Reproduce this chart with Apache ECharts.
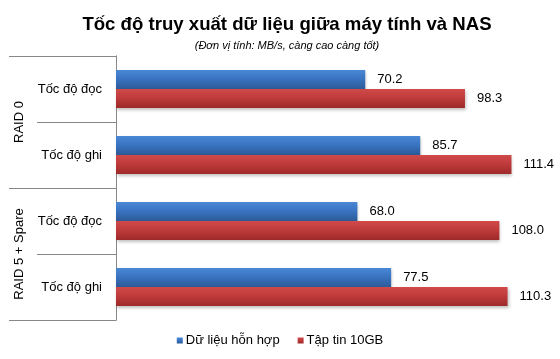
<!DOCTYPE html>
<html><head><meta charset="utf-8">
<script src="https://cdn.jsdelivr.net/npm/echarts@6/dist/echarts.min.js"></script>
<style>html,body{margin:0;padding:0;background:#fff}#c{width:560px;height:359px}</style>
</head><body><div id="c"></div>
<script>
const categories = ["Tốc độ đọc", "Tốc độ ghi", "Tốc độ đọc", "Tốc độ ghi"];
const groups = ["RAID 0", "RAID 5 + Spare"];
const seriesNames = ["Dữ liệu hỗn hợp", "Tập tin 10GB"];
const mixedData = [70.2, 85.7, 68.0, 77.5];
const fileData = [98.3, 111.4, 108.0, 110.3];

const FONT = "'Liberation Sans', Arial, sans-serif";
function grad(top, mid, bot) {
  return new echarts.graphic.LinearGradient(0, 0, 0, 1, [
    {offset: 0, color: top}, {offset: 0.45, color: mid}, {offset: 1, color: bot}
  ]);
}
const chart = echarts.init(document.getElementById('c'));
chart.setOption({
  animation: false,
  textStyle: {fontFamily: FONT},
  title: {
    text: "Tốc độ truy xuất dữ liệu giữa máy tính và NAS",
    subtext: "(Đơn vị tính: MB/s, càng cao càng tốt)",
    left: 282, top: 10, textAlign: 'center', itemGap: 6,
    textStyle: {fontFamily: FONT, fontSize: 18.6, fontWeight: 'bold', color: '#000'},
    subtextStyle: {fontFamily: FONT, fontSize: 11, fontStyle: 'italic', color: '#000'}
  },
  legend: {
    bottom: 7, left: 'center', icon: 'rect', itemWidth: 6, itemHeight: 6, itemGap: 18,
    textStyle: {fontFamily: FONT, fontSize: 13, color: '#000', padding: [0, 0, 0, -2]},
    data: seriesNames
  },
  grid: {left: 116, right: 18, top: 56, bottom: 39, containLabel: false},
  xAxis: {type: 'value', min: 0, max: 120, show: false},
  yAxis: [
    {
      type: 'category', data: categories, inverse: true, position: 'left',
      axisLine: {show: true, lineStyle: {color: '#888', width: 1}},
      axisTick: {show: true, length: 79, lineStyle: {color: '#888'}},
      axisLabel: {margin: 14, fontSize: 13, color: '#000', fontFamily: FONT}
    },
    {
      type: 'category', data: groups, inverse: true, position: 'left',
      axisLine: {show: true, lineStyle: {color: '#888', width: 1}},
      axisTick: {show: true, length: 107, lineStyle: {color: '#888'}},
      axisLabel: {margin: 90, rotate: 90, fontSize: 13, color: '#000', fontFamily: FONT}
    }
  ],
  series: [
    {
      name: seriesNames[0], type: 'bar', yAxisIndex: 0, data: mixedData,
      barWidth: 19, barGap: '0%',
      itemStyle: {color: grad('#4A88D4', '#3A74C2', '#2C5A98'),
        shadowBlur: 3, shadowColor: 'rgba(0,0,0,0.25)', shadowOffsetY: 2, shadowOffsetX: 1},
      label: {show: true, position: 'right', distance: 12, fontSize: 13, color: '#000',
        fontFamily: FONT, formatter: p => p.value.toFixed(1)}
    },
    {
      name: seriesNames[1], type: 'bar', yAxisIndex: 0, data: fileData,
      barWidth: 19, barGap: '0%',
      itemStyle: {color: grad('#D04A4A', '#C03B3B', '#9E2A2A'),
        shadowBlur: 3, shadowColor: 'rgba(0,0,0,0.25)', shadowOffsetY: 2, shadowOffsetX: 1},
      label: {show: true, position: 'right', distance: 12, fontSize: 13, color: '#000',
        fontFamily: FONT, formatter: p => p.value.toFixed(1)}
    }
  ]
});
</script></body></html>
